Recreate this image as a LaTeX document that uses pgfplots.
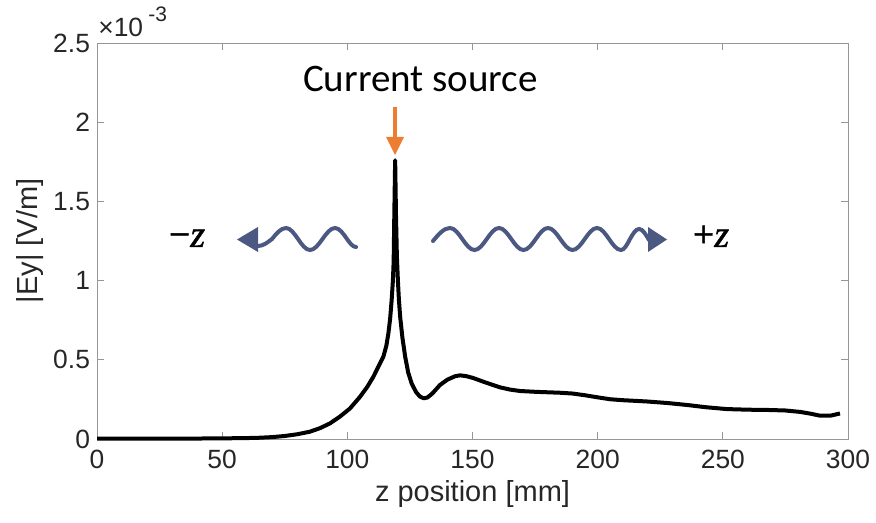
\documentclass[border=0pt]{standalone}
\usepackage{fontspec}
\setmainfont{Liberation Sans}
\newfontfamily\calibri{Carlito}
\newfontfamily\cambria[FakeBold=1.2]{Liberation Serif}
\usepackage{pgfplots}
\usepackage{pgfplotstable}
\pgfplotsset{compat=1.18}
\definecolor{wave}{RGB}{74,88,130}
\definecolor{srcorange}{RGB}{237,125,49}
\definecolor{axgray}{RGB}{150,150,150}
\definecolor{txt}{RGB}{38,38,38}

\pgfplotstableread{
z Ey
0 0.002e-3
10 0.002e-3
20 0.002e-3
30 0.002e-3
40 0.003e-3
50 0.004e-3
60 0.006e-3
65 0.008e-3
70 0.012e-3
75 0.019e-3
80 0.030e-3
85 0.046e-3
89 0.068e-3
93 0.098e-3
97 0.141e-3
101 0.192e-3
105 0.265e-3
108 0.33e-3
110.4 0.393e-3
112.5 0.46e-3
114.4 0.52e-3
115.6 0.59e-3
116.4 0.667e-3
117.1 0.76e-3
117.7 0.877e-3
118.2 1.00e-3
118.5 1.12e-3
118.75 1.40e-3
119.1 1.76e-3
119.45 1.40e-3
119.8 1.15e-3
120.2 1.00e-3
120.6 0.88e-3
121.1 0.772e-3
122.0 0.64e-3
123.1 0.52e-3
124.3 0.42e-3
125.7 0.35e-3
127.5 0.295e-3
129 0.268e-3
130.5 0.257e-3
132 0.262e-3
134 0.288e-3
137 0.341e-3
140 0.375e-3
143 0.396e-3
145 0.402e-3
147.5 0.397e-3
150.3 0.385e-3
155 0.358e-3
161 0.326e-3
165 0.312e-3
169 0.303e-3
175 0.298e-3
185 0.292e-3
190 0.287e-3
195 0.276e-3
200 0.263e-3
205 0.251e-3
210 0.245e-3
219.6 0.237e-3
228 0.227e-3
235.6 0.215e-3
243 0.201e-3
251.5 0.189e-3
260 0.185e-3
268.9 0.183e-3
275 0.180e-3
280.9 0.171e-3
285 0.160e-3
288.9 0.147e-3
292.9 0.147e-3
296.8 0.161e-3
}\datatable

\begin{document}
\begin{tikzpicture}
\begin{axis}[
  at={(48.5pt,-219.5pt)}, anchor=south west,
  scale only axis, width=375.5pt, height=198pt,
  xmin=0, xmax=300, ymin=0, ymax=2.5e-3,
  xtick={0,50,...,300},
  ytick={0,0.5e-3,1e-3,1.5e-3,2e-3,2.5e-3},
  scaled y ticks=base 10:3,
  ytick scale label code/.code={},
  tick align=inside, tick pos=both, major tick length=3.5pt,
  axis line style={axgray, line width=0.5pt},
  every tick/.style={axgray, line width=0.5pt},
  tick label style={font=\fontsize{13.2}{13.2}\selectfont, text=txt},
  xticklabel style={yshift=-2pt},
  /pgf/number format/assume math mode=true,
  yticklabel style={/pgf/number format/fixed},
  xlabel={z position [mm]}, ylabel={|Ey| [V/m]},
  every axis x label/.style={at={(rel axis cs:0.5,0)}, anchor=center, yshift=-27.5pt, font=\fontsize{14.5}{14.5}\selectfont, text=txt},
  every axis y label/.style={at={(rel axis cs:0,0.5)}, anchor=center, rotate=90, yshift=33.5pt, font=\fontsize{14.5}{14.5}\selectfont, text=txt},
  clip=false,
]
\addplot[black, line width=2pt, line join=round] table[x=z, y=Ey] {\datatable};
\end{axis}
\begin{scope}[x=0.5pt, y=-0.5pt]
  % scale label
  \node[anchor=base west, inner sep=0pt, text=txt, font=\fontsize{13.2}{13.2}\selectfont] at (98,37) {×10};
  \node[anchor=base west, inner sep=0pt, text=txt, font=\fontsize{10.5}{10.5}\selectfont] at (148,22) {-3};
  % Current source label and arrow
  \node[anchor=base, inner sep=0pt, font=\calibri\fontsize{19.5}{19.5}\selectfont] at (420.5,92) {Current source};
  \draw[srcorange, line width=1.6pt] (395,107) -- (395,140);
  \fill[srcorange] (386,137) -- (404,137) -- (395,155) -- cycle;
  % -z wave
  \fill[wave] (237,239.5) -- (258,227) -- (258,252) -- cycle;
  \draw[wave, line width=2pt, line cap=round] (258,246) cos (272,239) sin (286,228) cos (298,239) sin (310,250) cos (322.5,239) sin (335,228) cos (347,239) sin (356,247);
  \node[anchor=base, inner sep=0pt, font=\cambria\fontsize{19}{19}\selectfont] at (187,247) {−\textit{z}};
  % +z wave
  \draw[wave, line width=2pt, line cap=round] (433,241) sin (450,228) cos (462.25,239) sin (474.5,250) cos (486.75,239) sin (499,228) cos (511.25,239) sin (523.5,250) cos (535.75,239) sin (548,228) cos (560.25,239) sin (572.5,250) cos (584.75,239) sin (597,228) cos (609,239) sin (621,250) cos (630,239) sin (639,229) cos (649,240);
  \fill[wave] (648,227) -- (648,252) -- (667,239.5) -- cycle;
  \node[anchor=base, inner sep=0pt, font=\cambria\fontsize{19}{19}\selectfont] at (711,247) {+\textit{z}};
  \pgfresetboundingbox
  \path (0,0) rectangle (876,523);
\end{scope}
\end{tikzpicture}
\end{document}
